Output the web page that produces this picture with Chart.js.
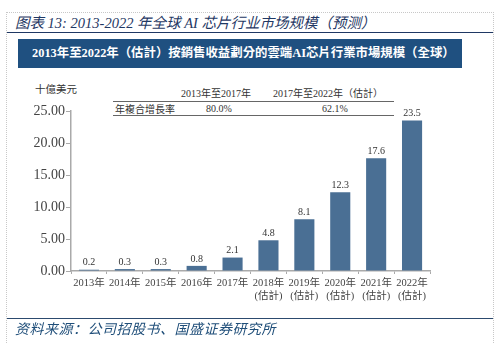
<!DOCTYPE html>
<html>
<head>
<meta charset="utf-8">
<script src="https://cdn.jsdelivr.net/npm/chart.js@4.4.1/dist/chart.umd.min.js"></script>
<style>
  html, body { margin: 0; padding: 0; background: #fff; }
  #wrap { position: relative; width: 500px; height: 344px; overflow: hidden; }
  #frame { position: absolute; left: 6px; top: 12px; width: 486px; height: 345px; border: 1px dotted #c8c8c8; }
  #title { position: absolute; left: 15px; top: 11px; font: italic 14.5px "Liberation Serif", "Noto Sans CJK SC", serif; color: #1f3864; white-space: nowrap; }
  #titleLine { position: absolute; left: 7px; top: 32px; width: 486px; height: 0; border-top: 1.5px solid #1f3864; }
  #banner { position: absolute; left: 18px; top: 39px; width: 444px; height: 29px; background: #1f5080; color: #fff;
            font: bold 12.4px "Liberation Serif", "Noto Sans CJK TC", serif; line-height: 29px; padding-left: 14px; box-sizing: border-box; white-space: nowrap; }
  .ann { position: absolute; font: 10px "Liberation Serif", "Noto Sans CJK TC", serif; color: #333; white-space: nowrap; transform: translate(-50%, -50%); }
  .rule { position: absolute; left: 113px; width: 281px; height: 0; border-top: 1.5px solid #666; }
  #footLine { position: absolute; left: 7px; top: 318px; width: 486px; height: 0; border-top: 1.5px solid #2c4a6e; }
  #foot { position: absolute; left: 15px; top: 318px; font: italic 14px "Noto Sans CJK SC", sans-serif; color: #1f4e79; letter-spacing: 0.5px; white-space: nowrap; }
  canvas { position: absolute; left: 0; top: 0; }
</style>
</head>
<body>
<div id="wrap">
  <div id="frame"></div>
  <div id="title">图表 13: 2013-2022 年全球 AI 芯片行业市场规模（预测）</div>
  <div id="titleLine"></div>
  <div id="banner">2013年至2022年（估計）按銷售收益劃分的雲端AI芯片行業市場規模（全球）</div>

  <div class="ann" style="left:56px; top:88px; font-size:10.5px;">十億美元</div>
  <div class="ann" style="left:216px; top:92px;">2013年至2017年</div>
  <div class="ann" style="left:328px; top:92px;">2017年至2022年（估計）</div>
  <div class="rule" style="top:101px;"></div>
  <div class="ann" style="left:145px; top:108px;">年複合增長率</div>
  <div class="ann" style="left:219px; top:108px;">80.0%</div>
  <div class="ann" style="left:335px; top:108px;">62.1%</div>
  <div class="rule" style="top:115px;"></div>

  <canvas id="chart" width="500" height="344"></canvas>

  <div id="footLine"></div>
  <div id="foot">资料来源：公司招股书、国盛证券研究所</div>
</div>
<script>
// data
const years = ['2013年', '2014年', '2015年', '2016年', '2017年', '2018年', '2019年', '2020年', '2021年', '2022年'];
const estimateNote = ['', '', '', '', '', '(估計)', '(估計)', '(估計)', '(估計)', '(估計)'];
const marketSize = [0.2, 0.3, 0.3, 0.8, 2.1, 4.8, 8.1, 12.3, 17.6, 23.5];
const yMin = 0, yMax = 25, yStep = 5;

const labels = years.map((y, i) => estimateNote[i] ? [y, estimateNote[i]] : y);

const serif = '"Liberation Serif", "Noto Sans CJK TC", serif';

// value labels above bars
const barValues = {
    id: 'barValues',
    afterDatasetsDraw(chart) {
        const ctx = chart.ctx;
        const meta = chart.getDatasetMeta(0);
        ctx.save();
        ctx.font = '10px ' + serif;
        ctx.fillStyle = '#333';
        ctx.textAlign = 'center';
        ctx.textBaseline = 'middle';
        meta.data.forEach((bar, i) => {
            ctx.fillText(marketSize[i].toFixed(1), bar.x, bar.y - 7);
        });
        ctx.restore();
    }
};

new Chart(document.getElementById('chart'), {
    type: 'bar',
    data: {
        labels,
        datasets: [{
            data: marketSize,
            backgroundColor: '#4a6f94',
            borderWidth: 0,
            categoryPercentage: 1,
            barPercentage: 0.56
        }]
    },
    options: {
        responsive: false,
        animation: false,
        layout: { padding: { left: 0, top: 111, right: 70, bottom: 0 } },
        plugins: { legend: { display: false }, tooltip: { enabled: false } },
        scales: {
            x: {
                afterFit: s => { s.height = 73; },
                grid: { offset: true, drawOnChartArea: false, drawTicks: true, tickLength: 3, color: '#aaa' },
                border: { display: true, color: '#aaa', width: 1.5 },
                ticks: { color: '#444', padding: 3, maxRotation: 0, autoSkip: false,
                         font: { family: serif, size: 10.5, lineHeight: 1.2 } }
            },
            y: {
                min: yMin, max: yMax,
                afterFit: s => { s.width = 71; },
                grid: { drawOnChartArea: false, drawTicks: true, tickLength: 5, color: '#aaa' },
                border: { display: true, color: '#aaa', width: 1.5 },
                ticks: { stepSize: yStep, color: '#444', padding: 1,
                         font: { family: serif, size: 14 },
                         callback: v => v.toFixed(2) }
            }
        }
    },
    plugins: [barValues]
});
</script>
</body>
</html>
